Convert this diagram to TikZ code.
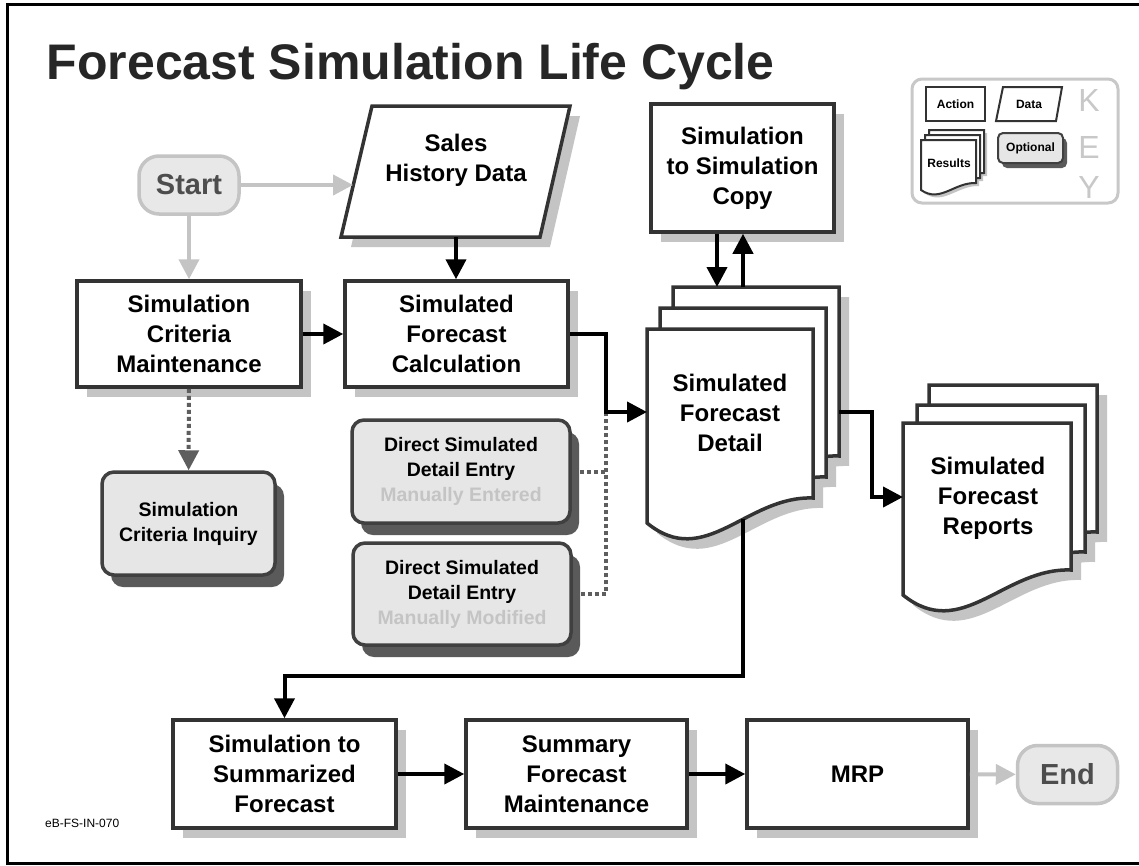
\documentclass[tikz,border=0pt]{standalone}
\usepackage{fontspec}
\setmainfont{Liberation Sans}
\usetikzlibrary{arrows.meta,shadows,calc}
\definecolor{bord}{HTML}{333333}
\definecolor{shgray}{HTML}{C4C4C4}
\definecolor{optfill}{HTML}{E6E6E6}
\definecolor{optbord}{HTML}{404040}
\definecolor{optsh}{HTML}{5A5A5A}
\definecolor{termfill}{HTML}{E8E8E8}
\definecolor{termline}{HTML}{C4C4C4}
\definecolor{termtext}{HTML}{4D4D4D}
\definecolor{dotcol}{HTML}{5E5E5E}
\definecolor{faint}{HTML}{C4C4C4}
\definecolor{keygray}{HTML}{C8C8C8}
\definecolor{titlecol}{HTML}{262626}
\newcommand\drawdoc[6]{\path[#1] (#2,#3) -- (#4,#3) -- (#4,{#5-#6}) .. controls ({#2+0.6*(#4-#2)},{#5-1.1*#6}) and ({#2+0.35*(#4-#2)},{#5+1.9*#6}) .. (#2,#5) -- cycle;}
\newcommand\boxfont{\bfseries\fontsize{24}{30}\selectfont}
\newcommand\optfont{\bfseries\fontsize{19.5}{25}\selectfont}
\newcommand\keyfont{\bfseries\fontsize{12}{14}\selectfont}
\tikzset{
  actionbox/.style={draw=bord, fill=white, line width=3.5pt, align=center, font=\boxfont, inner sep=0pt, text=black,
    drop shadow={shadow xshift=10pt, shadow yshift=-10pt, fill=shgray, opacity=1}},
  optbox/.style={draw=optbord, fill=optfill, line width=3.5pt, rounded corners=12pt, align=center, font=\optfont, inner sep=0pt,
    drop shadow={shadow xshift=9pt, shadow yshift=-12pt, fill=optsh, opacity=1}},
  term/.style={draw=termline, fill=termfill, line width=3.5pt, rounded corners=20pt, text=termtext,
    font=\bfseries\fontsize{29}{32}\selectfont, minimum width=100pt, minimum height=58pt, inner sep=0pt},
  docstyle/.style={draw=bord, fill=white, line width=3.5pt, line join=miter},
  docshadow/.style={fill=shgray},
  keydoc/.style={draw=bord, fill=white, line width=2pt},
  keyshadow/.style={fill=shgray},
  plaintext/.style={align=center, font=\boxfont, inner sep=0pt, text=black},
  blkarr/.style={draw=black, line width=4pt, -{Triangle[length=20pt,width=20pt]}},
  grayarr/.style={draw=termline, line width=4pt, -{Triangle[length=20pt,width=20pt]}},
  dotline/.style={draw=dotcol, line width=4pt, dash pattern=on 4pt off 3pt},
  dotarr/.style={dotline, -{Triangle[length=20pt,width=20pt]}},
}
\begin{document}
\begin{tikzpicture}[x=1pt,y=-1pt]
\useasboundingbox (0,0) rectangle (1139,865);
\clip (0,0) rectangle (1139,865);
\fill[white] (0,0) rectangle (1139,865);
% frame
\draw[line width=3pt] (7,4) rectangle (1160,863);
% title
\node[anchor=base west, font=\bfseries\fontsize{50}{56}\selectfont, text=titlecol, inner sep=0pt] (title) at (46.5,79) {Forecast Simulation Life Cycle};
\node[anchor=west, font=\fontsize{12}{14}\selectfont, inner sep=0pt] (docid) at (45,823) {eB-FS-IN-070};

% ---------- key ----------
\draw[draw=keygray, line width=3pt, rounded corners=10pt, fill=white] (912,79) rectangle (1118,203);
\node[draw=bord, line width=2pt, fill=white, minimum width=59pt, minimum height=34pt, inner sep=0pt, font=\keyfont] (kaction) at (955.5,104) {Action};
\path[keydoc, line join=miter] (1003,87) -- (1062,87) -- (1056,121) -- (996,121) -- cycle;
\node[font=\keyfont, inner sep=0pt] (kdata) at (1029,104) {Data};
\drawdoc{keyshadow}{932}{133}{987}{183}{7}
\drawdoc{keyshadow}{928}{138}{983}{188}{7}
\drawdoc{keyshadow}{924}{143}{979}{193}{7}
\drawdoc{keydoc}{929}{130}{984}{180}{7}
\drawdoc{keydoc}{925}{135}{980}{185}{7}
\drawdoc{keydoc}{921}{140}{976}{190}{7}
\node[font=\keyfont, inner sep=0pt] (kresults) at (949,163) {Results};
\node[draw=optbord, fill=optfill, line width=2pt, rounded corners=5pt, minimum width=65pt, minimum height=30pt, inner sep=0pt, font=\keyfont,
  drop shadow={shadow xshift=4pt, shadow yshift=-5pt, fill=optsh, opacity=1}] (kopt) at (1030.5,148) {Optional};
\node[font=\fontsize{32}{34}\selectfont, text=keygray, inner sep=0pt] (kK) at (1089,100) {K};
\node[font=\fontsize{32}{34}\selectfont, text=keygray, inner sep=0pt] (kE) at (1089,147) {E};
\node[font=\fontsize{32}{34}\selectfont, text=keygray, inner sep=0pt] (kY) at (1089,187) {Y};

% ---------- sales history data (parallelogram) ----------
\path[fill=shgray] (382,116) -- (580,116) -- (550,247) -- (351,247) -- cycle;
\path[docstyle] (372,106) -- (570,106) -- (540,237) -- (341,237) -- cycle;
\node[plaintext] (sales) at (456,160) {Sales\\History Data};
\coordinate (salesW) at (353,185);
\coordinate (salesS) at (456,237);

% ---------- detail document stack ----------
\drawdoc{docshadow}{683}{297}{849}{491}{25}
\drawdoc{docshadow}{670}{318}{836}{512}{25}
\drawdoc{docshadow}{657}{339}{823}{533}{25}
\drawdoc{docstyle}{673}{287}{839}{481}{25}
\drawdoc{docstyle}{660}{308}{826}{502}{25}
\drawdoc{docstyle}{647}{329}{813}{523}{25}
\node[plaintext] (detail) at (730,413) {Simulated\\Forecast\\Detail};
\coordinate (detailW) at (647,412);
\coordinate (detailE) at (839,412);
\coordinate (detailS) at (743,519);
\coordinate (dA) at (717,287);
\coordinate (dB) at (743,287);

% ---------- reports document stack ----------
\drawdoc{docshadow}{939}{395}{1107}{567}{25}
\drawdoc{docshadow}{927}{415}{1095}{587}{25}
\drawdoc{docshadow}{913}{433}{1081}{605}{25}
\drawdoc{docstyle}{929}{385}{1097}{557}{25}
\drawdoc{docstyle}{917}{405}{1085}{577}{25}
\drawdoc{docstyle}{903}{423}{1071}{595}{25}
\node[plaintext] (reports) at (988,498) {Simulated\\Forecast\\Reports};
\coordinate (reportsW) at (903,497);

% ---------- nodes ----------
\node[term] (start) at (189,185) {Start};
\node[actionbox, minimum width=224pt, minimum height=106pt] (crit) at (189,334) {Simulation\\Criteria\\Maintenance};
\node[actionbox, minimum width=223pt, minimum height=106pt] (calc) at (456.5,334) {Simulated\\Forecast\\Calculation};
\node[actionbox, minimum width=183pt, minimum height=128pt] (copy) at (742.5,168) {Simulation\\to Simulation\\Copy};
\node[optbox, minimum width=173pt, minimum height=103pt] (inquiry) at (188.5,523.5) {Simulation\\Criteria Inquiry};
\node[optbox, minimum width=218pt, minimum height=103pt] (dse1) at (461,471.5) {Direct Simulated\\Detail Entry\\\textcolor{faint}{Manually Entered}};
\node[optbox, minimum width=218pt, minimum height=102pt] (dse2) at (462,594) {Direct Simulated\\Detail Entry\\\textcolor{faint}{Manually Modified}};
\node[actionbox, minimum width=223pt, minimum height=108pt] (simsum) at (284.5,774) {Simulation to\\Summarized\\Forecast};
\node[actionbox, minimum width=221pt, minimum height=108pt] (summ) at (576.5,774) {Summary\\Forecast\\Maintenance};
\node[actionbox, minimum width=221pt, minimum height=108pt] (mrp) at (857.5,774) {MRP};
\node[term] (end) at (1067.5,774.5) {End};
\coordinate (bendA) at (606,412);

% ---------- connectors ----------
\draw[grayarr] (start) -- (salesW);
\draw[grayarr] (start) -- (crit);
\draw[blkarr] (salesS) -- (salesS |- calc.north);
\draw[blkarr] (crit) -- (calc);
\draw[dotline] ([xshift=8pt]dse2.east) -| (bendA);
\draw[dotline] ([xshift=8pt]dse1.east) -- (dse1.east -| bendA);
\draw[blkarr] (calc.east) -| (bendA) -- (detailW);
\draw[blkarr] (copy.south -| dA) -- (dA);
\draw[blkarr] (dB) -- (copy.south -| dB);
\draw[blkarr] (detailE) -| ([xshift=-31pt]reportsW) -- (reportsW);
\draw[blkarr] (detailS) |- ([yshift=42pt]simsum.north) -- (simsum.north);
\draw[blkarr] (simsum) -- (summ);
\draw[blkarr] (summ) -- (mrp);
\draw[grayarr] (mrp) -- (end);
\draw[dotarr] (crit) -- (inquiry);
\end{tikzpicture}
\end{document}
